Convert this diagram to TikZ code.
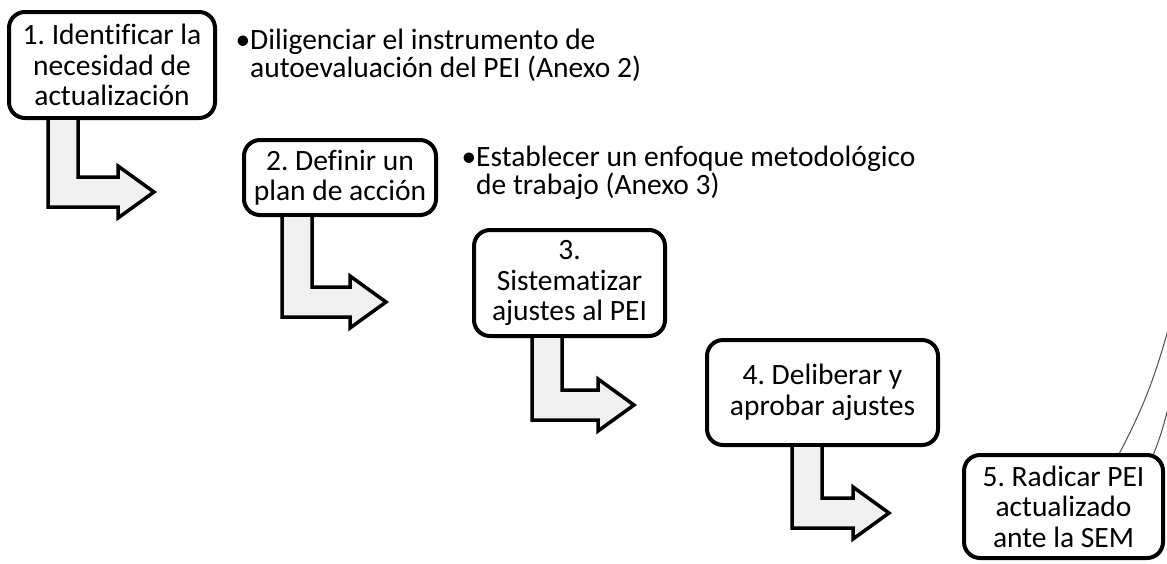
\documentclass[tikz,border=0pt]{standalone}
\usepackage{fontspec}
\setmainfont{Carlito}[Ligatures=NoCommon]
\usetikzlibrary{calc}
\frenchspacing

\tikzset{
  stepbox/.style={draw, line width=4pt, rounded corners=16pt, fill=white,
    align=center, inner sep=0pt, font=\fontsize{29.5}{30.5}\selectfont},
  note/.style={anchor=north west, align=left, inner sep=0pt,
    font=\fontsize{29.5}{28}\selectfont},
  blockarrow/.style={draw, line width=3.5pt, fill=black!6, line join=miter},
  rim/.style={draw=black!70, line width=1pt}
}

% bent block arrow under a box: node, stem offset, drop, length
\newcommand{\bentarrow}[4]{%
  \draw[blockarrow, shift={($(#1.south west)+(#2,0)$)}]
    (0,-2) -- (30,-2) -- (30,#3-30) -- (#4-36,#3-30) -- (#4-36,#3-41)
    -- (#4,#3-15) -- (#4-36,#3+11) -- (#4-36,#3) -- (0,#3) -- cycle;
}

\begin{document}
\begin{tikzpicture}[x=1pt,y=-1pt]
  \useasboundingbox (0,0) rectangle (1167,563);

  \coordinate (rimAlow) at (1117,458);
  \coordinate (rimAtop) at (1168,330);
  \coordinate (rimBlow) at (1152,458);
  \coordinate (rimBtop) at (1168,408);
  \draw[rim] (rimAlow) to[bend right=6] (rimAtop);
  \draw[rim] (rimBlow) to[bend right=4] (rimBtop);

  \node[stepbox, minimum width=206pt, minimum height=106pt] (ident) at (112,65)
    {1. Identificar la\\necesidad de\\actualización};
  \node[note] (diligenciar) at (250,29)
    {\llap{•}Diligenciar el instrumento de\\autoevaluación del PEI (Anexo 2)};

  \node[stepbox, minimum width=192pt, minimum height=75pt] (plan) at (340,177.5)
    {2. Definir un\\plan de acción};
  \node[note] (enfoque) at (476,146)
    {\llap{•}Establecer un enfoque metodológico\\de trabajo (Anexo 3)};

  \node[stepbox, minimum width=191pt, minimum height=106pt] (ajustes) at (569.5,283)
    {3.\\Sistematizar\\ajustes al PEI};
  \node[stepbox, minimum width=231pt, minimum height=105pt] (aprobar) at (822.5,392.5)
    {4. Deliberar y\\aprobar ajustes};
  \node[stepbox, minimum width=199pt, minimum height=103pt] (radicar) at (1063.5,506.5)
    {5. Radicar PEI\\actualizado\\ante la SEM};

  \bentarrow{ident}{41}{87}{106}
  \bentarrow{plan}{40}{100}{104}
  \bentarrow{ajustes}{60}{82}{102}
  \bentarrow{aprobar}{87}{81}{97}
\end{tikzpicture}
\end{document}
